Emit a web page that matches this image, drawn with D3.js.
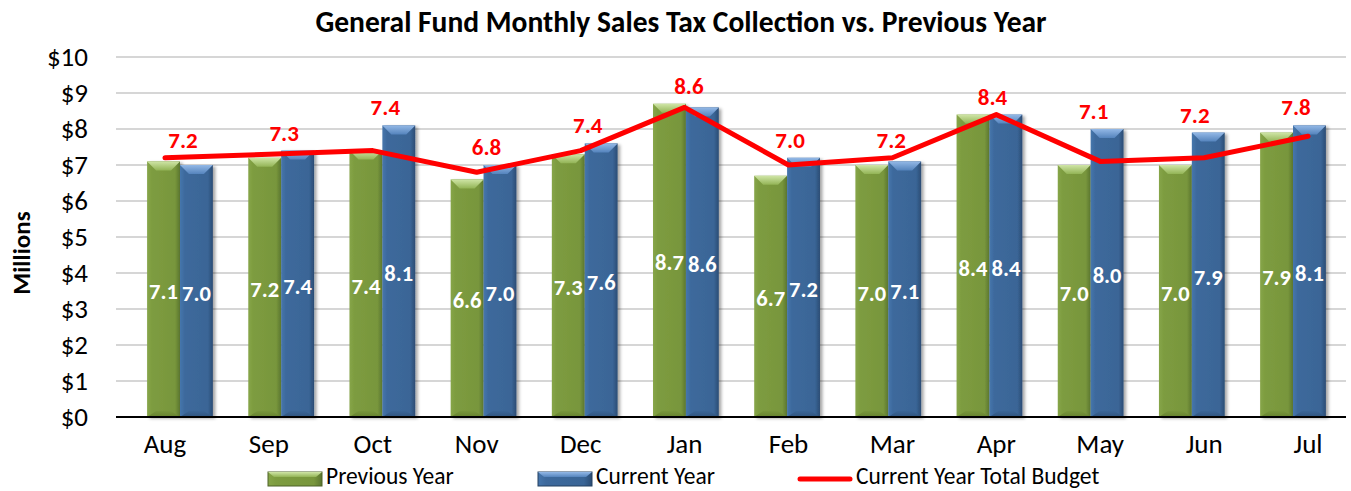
<html>
<head>
    <script src="https://cdn.jsdelivr.net/npm/d3@7"></script>
    <style type="text/css">
        body { margin: 0; background: #fff; }
        text { font-family: Carlito, Calibri, "Liberation Sans", Arial, sans-serif; }
        line.grid { stroke: #c8c8c8; stroke-width: 1.5; }
    </style>
</head>
<body>
    <svg></svg>
    <script>
        // values (millions)
        const months = ["Aug","Sep","Oct","Nov","Dec","Jan","Feb","Mar","Apr","May","Jun","Jul"];
        const prevYear = [7.1, 7.2, 7.4, 6.6, 7.3, 8.7, 6.7, 7.0, 8.4, 7.0, 7.0, 7.9];
        const currYear = [7.0, 7.4, 8.1, 7.0, 7.6, 8.6, 7.2, 7.1, 8.4, 8.0, 7.9, 8.1];
        const budget   = [7.2, 7.3, 7.4, 6.8, 7.4, 8.6, 7.0, 7.2, 8.4, 7.1, 7.2, 7.8];
        const yTicks = [0,1,2,3,4,5,6,7,8,9,10];
        const seriesNames = ["Previous Year", "Current Year"];

        const W = 1351, H = 491;
        var svg = d3.select("svg").attr("width", W).attr("height", H);
        var defs = svg.append("defs");

        function hgrad(id, stops)
        {
            let g = defs.append("linearGradient").attr("id", id)
                .attr("x1", "0").attr("x2", "1").attr("y1", "0").attr("y2", "0");
            stops.forEach((s) => g.append("stop").attr("offset", s[0]).attr("stop-color", s[1]));
        }
        function vgrad(id, stops)
        {
            let g = defs.append("linearGradient").attr("id", id)
                .attr("x1", "0").attr("x2", "0").attr("y1", "0").attr("y2", "1");
            stops.forEach((s) => g.append("stop").attr("offset", s[0]).attr("stop-color", s[1]));
        }
        hgrad("gBody", [[0,"#86a548"],[0.15,"#7d9c40"],[0.85,"#78963c"],[1,"#5b7630"]]);
        hgrad("bBody", [[0,"#4676ac"],[0.15,"#3d699c"],[0.85,"#3a6596"],[1,"#2b4c74"]]);
        vgrad("gTop", [[0,"#cfe5a6"],[1,"#93b456"]]);
        vgrad("bTop", [[0,"#93b8e6"],[1,"#5584bd"]]);
        vgrad("gBot", [[0,"#78963c"],[1,"#66822f"]]);
        vgrad("bBot", [[0,"#3a6596"],[1,"#30557f"]]);

        defs.append("filter").attr("id", "shadow")
            .attr("x", "-20%").attr("y", "-5%").attr("width", "150%").attr("height", "115%")
            .append("feDropShadow")
            .attr("dx", 2.5).attr("dy", 1.5).attr("stdDeviation", 1.8)
            .attr("flood-color", "#000").attr("flood-opacity", 0.35);

        const styles = [
            { body: "url(#gBody)", top: "url(#gTop)", bot: "url(#gBot)" },
            { body: "url(#bBody)", top: "url(#bTop)", bot: "url(#bBot)" }
        ];

        var y = d3.scaleLinear().domain([0, 10]).range([417, 57]);
        var x = d3.scaleBand().domain(months).range([129.4, 1343.6])
            .paddingInner(0.35).paddingOuter(0.175);
        var xs = d3.scaleBand().domain([0, 1]).range([0, x.bandwidth()]);
        // category labels and the budget line sit on a slightly wider spread (3D perspective)
        var xl = d3.scalePoint().domain(months).range([113, 1360]).padding(0.5);

        // title
        svg.append("text")
            .attr("x", 681).attr("y", 32)
            .attr("text-anchor", "middle")
            .style("font-size", "29.5px").style("font-weight", "bold")
            .text("General Fund Monthly Sales Tax Collection vs. Previous Year");

        // grid + y labels
        svg.selectAll("line.grid")
            .data(yTicks.filter((d) => d > 0))
            .enter().append("line").classed("grid", true)
            .attr("x1", 116).attr("x2", 1346)
            .attr("y1", (d) => y(d)).attr("y2", (d) => y(d));

        svg.selectAll("text.ytick")
            .data(yTicks)
            .enter().append("text").classed("ytick", true)
            .attr("x", 88).attr("y", (d) => y(d))
            .attr("dy", "0.35em")
            .attr("text-anchor", "end")
            .style("font-size", "27px").style("fill", "#000")
            .text((d) => "$" + d);

        svg.append("text")
            .attr("transform", "translate(30,253) rotate(-90)")
            .attr("text-anchor", "middle")
            .style("font-size", "25px").style("font-weight", "bold")
            .text("Millions");

        // bars
        var rows = [];
        months.forEach((m, i) => {
            rows.push({ m: m, s: 0, v: prevYear[i] });
            rows.push({ m: m, s: 1, v: currYear[i] });
        });

        var bars = svg.append("g").selectAll("g.bar")
            .data(rows)
            .enter().append("g").classed("bar", true)
            .attr("transform", (d) => "translate(" + (x(d.m) + xs(d.s)) + ",0)");

        const bw = xs.bandwidth(), bev = 9;

        bars.append("rect")
            .attr("x", 0).attr("width", bw)
            .attr("y", (d) => y(d.v)).attr("height", (d) => y(0) - y(d.v))
            .attr("fill", (d) => styles[d.s].body)
            .attr("filter", "url(#shadow)");

        bars.append("path")
            .attr("d", (d) => {
                let t = y(d.v);
                return "M0," + t + "L" + bw + "," + t + "L" + (bw - bev) + "," + (t + bev) +
                    "L" + bev + "," + (t + bev) + "Z";
            })
            .attr("fill", (d) => styles[d.s].top);

        bars.append("path")
            .attr("d", (d) => {
                let b = y(0);
                return "M0," + b + "L" + bw + "," + b + "L" + (bw - bev) + "," + (b - 6) +
                    "L" + bev + "," + (b - 6) + "Z";
            })
            .attr("fill", (d) => styles[d.s].bot);

        bars.append("text")
            .attr("x", bw / 2)
            .attr("y", (d) => (y(d.v) + y(0)) / 2 + 2)
            .attr("dy", "0.35em")
            .attr("text-anchor", "middle")
            .style("font-size", "22.5px").style("font-weight", "bold").style("fill", "#fff")
            .text((d) => d.v.toFixed(1));

        // axis line
        svg.append("line")
            .attr("x1", 116).attr("x2", 1346)
            .attr("y1", y(0)).attr("y2", y(0))
            .attr("stroke", "#000").attr("stroke-width", 2);

        // x labels
        svg.selectAll("text.xtick")
            .data(months)
            .enter().append("text").classed("xtick", true)
            .attr("x", (d) => xl(d)).attr("y", 444)
            .attr("dy", "0.35em")
            .attr("text-anchor", "middle")
            .style("font-size", "27px")
            .text((d) => d);

        // budget line
        var line = d3.line()
            .x((d, i) => xl(months[i]))
            .y((d) => y(d));

        svg.append("path")
            .datum(budget)
            .attr("d", line)
            .attr("fill", "none")
            .attr("stroke", "#ff0000")
            .attr("stroke-width", 5)
            .attr("stroke-linejoin", "round")
            .attr("stroke-linecap", "round");

        // budget labels sit above the tallest mark of the month
        svg.selectAll("text.blabel")
            .data(budget)
            .enter().append("text").classed("blabel", true)
            .attr("x", (d, i) => x(months[i]) + x.bandwidth() / 2 + 3)
            .attr("y", (d, i) => y(Math.max(d, prevYear[i], currYear[i])) - 18)
            .attr("dy", "0.35em")
            .attr("text-anchor", "middle")
            .style("font-size", "23px").style("font-weight", "bold").style("fill", "#ff0000")
            .text((d) => d.toFixed(1));

        // legend
        var legend = svg.append("g");
        const legItems = [
            { x: 268, label: seriesNames[0], kind: 0 },
            { x: 538, label: seriesNames[1], kind: 1 },
            { x: 798, label: "Current Year Total Budget", kind: 2 }
        ];
        legItems.forEach((it) => {
            if( it.kind < 2 )
            {
                legend.append("rect")
                    .attr("x", it.x).attr("y", 472).attr("width", 54).attr("height", 14)
                    .attr("fill", styles[it.kind].body)
                    .attr("stroke", it.kind == 0 ? "#4f6228" : "#244061").attr("stroke-width", 1);
                legend.append("path")
                    .attr("d", "M" + it.x + ",472L" + (it.x + 54) + ",472L" + (it.x + 48) + ",477L" + (it.x + 6) + ",477Z")
                    .attr("fill", styles[it.kind].top);
            }
            else
            {
                legend.append("line")
                    .attr("x1", it.x + 2).attr("x2", it.x + 52)
                    .attr("y1", 479).attr("y2", 479)
                    .attr("stroke", "#ff0000").attr("stroke-width", 5)
                    .attr("stroke-linecap", "round");
            }
            legend.append("text")
                .attr("x", it.x + 58).attr("y", 476)
                .attr("dy", "0.35em")
                .style("font-size", "23.5px")
                .text(it.label);
        });
    </script>
</body>
</html>
